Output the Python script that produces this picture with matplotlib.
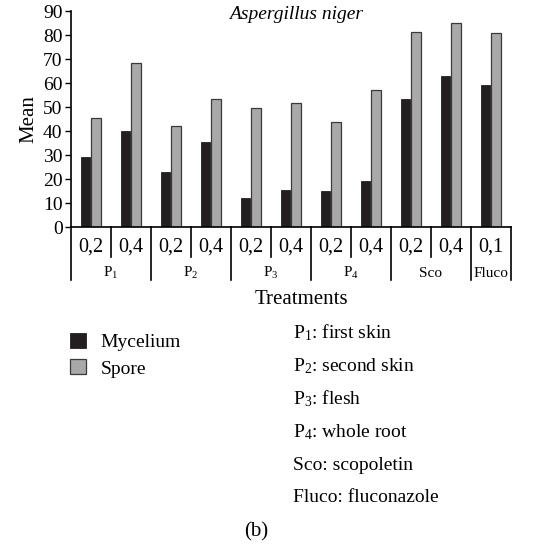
import numpy as np
import matplotlib
matplotlib.use('Agg')
import matplotlib.pyplot as plt

plt.rcParams['font.family'] = ['Liberation Serif', 'DejaVu Serif']
plt.rcParams['mathtext.fontset'] = 'custom'
plt.rcParams['mathtext.rm'] = 'Liberation Serif'
plt.rcParams['mathtext.it'] = 'Liberation Serif:italic'

# data
doses = ['0,2', '0,4', '0,2', '0,4', '0,2', '0,4', '0,2', '0,4', '0,2', '0,4', '0,1']
groups = ['P$_1$', 'P$_2$', 'P$_3$', 'P$_4$', 'Sco', 'Fluco']
group_sizes = [2, 2, 2, 2, 2, 1]
mycelium = [29, 40, 23, 35.3, 12, 15.3, 15, 19, 53.4, 63.1, 59.1]
spore = [45.3, 68.5, 42.1, 53.3, 49.5, 51.7, 43.8, 57.2, 81.1, 85, 80.8]
notes = ['P$_1$: first skin', 'P$_2$: second skin', 'P$_3$: flesh',
         'P$_4$: whole root', 'Sco: scopoletin', 'Fluco: fluconazole']

fig = plt.figure(figsize=(5.45, 5.46), dpi=100)
ax = fig.add_axes([0.130, 0.5842, 0.8076, 0.3956])

x = np.arange(len(doses))
w = 0.235
b1 = ax.bar(x - 0.13, mycelium, w, color='#231f20', edgecolor='#231f20', lw=0.6, label='Mycelium')
b2 = ax.bar(x + 0.13, spore, w, color='#a9a9aa', edgecolor='#3a3a3a', lw=0.9, label='Spore')

ax.set_xlim(-0.5, len(doses) - 0.5)
ax.set_ylim(0, 90)
ax.set_yticks(range(0, 91, 10))
ax.tick_params(axis='y', labelsize=14, length=4, width=1, pad=2)
ax.set_xticks([])
ax.spines['top'].set_visible(False)
ax.spines['right'].set_visible(False)
ax.spines['left'].set_linewidth(1.2)
ax.spines['bottom'].set_linewidth(1.2)
ax.set_ylabel('Mean', fontsize=15, labelpad=3)
ax.text(0.511, 0.985, 'Aspergillus niger', transform=ax.transAxes, ha='center', va='center',
        fontsize=14, style='italic')

# category table under the axis
tr = ax.get_xaxis_transform()
for i, d in enumerate(doses):
    ax.text(x[i], -0.093, d, transform=tr, ha='center', va='center', fontsize=14.5)
edges = np.cumsum([0] + group_sizes) - 0.5
for e in edges:
    ax.plot([e, e], [0, -0.245], transform=tr, color='black', lw=1.2, clip_on=False)
start = 0
for g, n in zip(groups, group_sizes):
    for k in range(1, n):
        e = start + k - 0.5
        ax.plot([e, e], [0, -0.139], transform=tr, color='black', lw=1.2, clip_on=False)
    ax.text(start + (n - 1) / 2, -0.213, g, transform=tr, ha='center', va='center', fontsize=11)
    start += n
fig.text(301 / 545, 1 - 300 / 546, 'Treatments', ha='center', va='center', fontsize=15)

fig.legend(handles=[b1, b2], loc='upper left', bbox_to_anchor=(0.097, 0.422),
           frameon=False, fontsize=14, handlelength=0.8, handleheight=0.8,
           handletextpad=0.75, labelspacing=0.42)

for i, t in enumerate(notes):
    fig.text(0.537, 1 - (333 + 33 * i) / 546, t, ha='left', va='center', fontsize=14)

fig.text(256 / 545, 1 - 532 / 546, '(b)', ha='center', va='center', fontsize=15)

fig.savefig('out.png', dpi=100)
